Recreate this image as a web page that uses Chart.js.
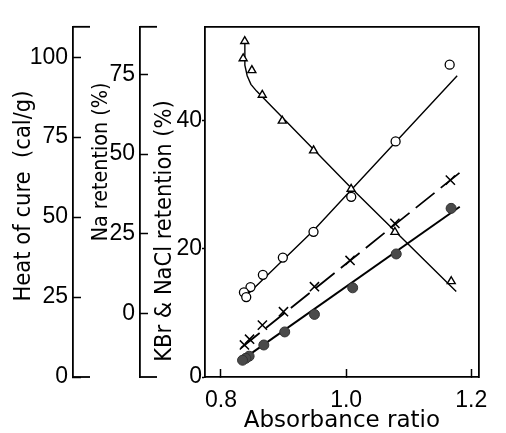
<!DOCTYPE html>
<html>
<head>
<meta charset="utf-8">
<script src="https://cdn.jsdelivr.net/npm/chart.js@4.4.1/dist/chart.umd.min.js"></script>
<style>
  body { margin: 0; background: #fff; }
  #wrap { width: 506px; height: 433px; }
</style>
</head>
<body>
<div id="wrap"><canvas id="grafico"></canvas></div>
<script>
// tick labels
const xTicks = [0.8, 1.0, 1.2];
const heatTicks = [0, 25, 50, 75, 100];
const naTicks = [0, 25, 50, 75];
const saltTicks = [0, 20, 40];

// heat of cure (triangles)
const heatX = [0.838, 0.8355, 0.8494, 0.866, 0.898, 0.948, 1.008, 1.078, 1.168];
const heatY = [105, 99.6, 95.9, 88.2, 80.1, 70.8, 58.8, 45.3, 29.9];
const heatFitX = [0.8382, 0.8382, 0.8419, 0.8479, 0.8569, 0.8659, 1.0082, 1.176];
const heatFitY = [104.7, 97.5, 94.2, 91.5, 89.4, 87.6, 59.1, 26.7];

// Na retention (open circles)
const naX = [1.1655, 1.0791, 1.0082, 0.9479, 0.8989, 0.867, 0.8472, 0.8367, 0.8404];
const naY = [78.1, 54.0, 36.6, 25.6, 17.5, 12.1, 8.25, 6.6, 5.1];
const naFitX = [0.8345, 0.9483, 1.1775];
const naFitY = [4.4, 26.1, 74.6];

// KBr retention (crosses)
const kbrX = [1.1666, 1.0779, 1.0063, 0.9494, 0.8999, 0.8662, 0.8457, 0.8375];
const kbrY = [30.76, 24.0, 18.2, 14.1, 10.2, 8.1, 5.9, 5.0];
const kbrFitX = [0.8319, 1.1835];
const kbrFitY = [4.54, 32.06];

// NaCl retention (filled circles)
const naclX = [1.1678, 1.0801, 1.0105, 0.9494, 0.9019, 0.8685, 0.845, 0.8397, 0.8345];
const naclY = [26.34, 19.22, 13.93, 9.78, 7.04, 5.0, 3.25, 2.92, 2.62];
const naclFitX = [0.8319, 1.1816];
const naclFitY = [2.55, 26.59];

const yTitles = [
  { axis: 'yHeat', text: 'Heat of cure  (cal/g)', size: 23.5, dx: 30, cy: 196 },
  { axis: 'yNa', text: 'Na retention (%)', size: 21.3, dx: 34, cy: 162 },
  { axis: 'ySalt', text: 'KBr & NaCl retention (%)', size: 23.4, dx: 31, cy: 231 }
];

function pts(xs, ys) {
  return xs.map((x, i) => ({ x: x, y: ys[i] }));
}
function fixTicks(list) {
  return function(scale) { scale.ticks = list.map(v => ({ value: v })); };
}
function fixWidth(w) {
  return function(scale) { scale.width = w; };
}

const tickFont = { family: "'Liberation Sans Narrow', 'Liberation Sans', sans-serif", size: 23 };
const black = '#000';

function sideAxis(min, max, ticks, width, tl, pad) {
  return {
    type: 'linear', position: 'left', min: min, max: max,
    afterBuildTicks: fixTicks(ticks), afterFit: fixWidth(width),
    grid: { drawOnChartArea: false, tickLength: tl, tickWidth: 1.5, tickColor: black },
    border: { color: black, width: 1.8 },
    ticks: { color: black, font: tickFont, padding: pad }
  };
}

const axisExtras = {
  id: 'axisExtras',
  afterDraw(chart) {
    const ctx = chart.ctx, area = chart.chartArea;
    ctx.save();
    ctx.strokeStyle = black;
    ctx.lineWidth = 1.8;
    ['yHeat', 'yNa'].forEach(id => {
      const s = chart.scales[id];
      [area.top, area.bottom].forEach(y => {
        ctx.beginPath();
        ctx.moveTo(s.right, y);
        ctx.lineTo(s.right + 17, y);
        ctx.stroke();
      });
    });
    yTitles.forEach(t => {
      const s = chart.scales[t.axis];
      ctx.save();
      ctx.translate(s.left + t.dx, t.cy);
      ctx.rotate(-Math.PI / 2);
      ctx.font = t.size + "px 'DejaVu Sans Condensed', 'DejaVu Sans', sans-serif";
      ctx.textAlign = 'center';
      ctx.textBaseline = 'alphabetic';
      ctx.fillStyle = black;
      ctx.fillText(t.text, 0, 0);
      ctx.restore();
    });
    ctx.restore();
  }
};

const ctx = document.getElementById('grafico');

new Chart(ctx, {
  type: 'scatter',
  data: {
    datasets: [
      { label: 'Heat of cure', data: pts(heatX, heatY), yAxisID: 'yHeat', pointStyle: 'triangle',
        pointRadius: 4.6, borderColor: black, backgroundColor: '#fff', borderWidth: 1.4, order: 1 },
      { label: 'Na retention', data: pts(naX, naY), yAxisID: 'yNa', pointStyle: 'circle',
        pointRadius: 4.5, borderColor: black, backgroundColor: '#fff', borderWidth: 1.3, order: 1 },
      { label: 'KBr retention', data: pts(kbrX, kbrY), yAxisID: 'ySalt', pointStyle: 'crossRot',
        pointRadius: 6.5, borderColor: black, borderWidth: 1.5, order: 1 },
      { label: 'NaCl retention', data: pts(naclX, naclY), yAxisID: 'ySalt', pointStyle: 'circle',
        pointRadius: 5, borderColor: '#333', backgroundColor: '#4a4a4a', borderWidth: 1, order: 1 },
      { label: 'Heat fit', data: pts(heatFitX, heatFitY), yAxisID: 'yHeat', showLine: true, pointRadius: 0,
        borderColor: black, borderWidth: 1.4, tension: 0, order: 2 },
      { label: 'Na fit', data: pts(naFitX, naFitY), yAxisID: 'yNa', showLine: true, pointRadius: 0,
        borderColor: black, borderWidth: 1.4, tension: 0, order: 2 },
      { label: 'KBr fit', data: pts(kbrFitX, kbrFitY), yAxisID: 'ySalt', showLine: true, pointRadius: 0,
        borderColor: black, borderWidth: 1.8, borderDash: [24, 8], tension: 0, order: 2 },
      { label: 'NaCl fit', data: pts(naclFitX, naclFitY), yAxisID: 'ySalt', showLine: true, pointRadius: 0,
        borderColor: black, borderWidth: 2, tension: 0, order: 2 }
    ]
  },
  options: {
    responsive: true,
    maintainAspectRatio: false,
    animation: false,
    layout: { padding: { top: 12, right: 9, left: 0, bottom: 0 } },
    plugins: { legend: { display: false }, tooltip: { enabled: false } },
    scales: {
      x: {
        type: 'linear', position: 'bottom', min: 0.7745, max: 1.212,
        afterBuildTicks: fixTicks(xTicks), afterFit: s => { s.height = 56; },
        grid: { drawOnChartArea: false, tickLength: -8, tickWidth: 1.5, tickColor: black },
        border: { color: black, width: 1.8 },
        ticks: { color: black, font: tickFont, padding: 18, maxRotation: 0, callback: v => v.toFixed(1) },
        title: { display: true, text: 'Absorbance ratio', color: black,
          font: { family: "'DejaVu Sans', sans-serif", size: 23, lineHeight: 1 }, padding: 0 }
      },
      xTop: {
        type: 'linear', position: 'top', min: 0.7745, max: 1.212,
        afterFit: s => { s.height = 0; },
        grid: { display: false },
        border: { color: black, width: 1.8 },
        ticks: { display: false }
      },
      // left axes: the first one listed sits next to the plot
      ySalt: sideAxis(0, 54.7, saltTicks, 65, 3, 0),
      yNa: sideAxis(-20, 90, naTicks, 67, -8, 13),
      yHeat: sideAxis(0, 109.5, heatTicks, 73, -8, 13),
      yRight: {
        type: 'linear', position: 'right', min: 0, max: 54.7,
        afterFit: s => { s.width = 0; },
        grid: { display: false },
        border: { color: black, width: 1.8 },
        ticks: { display: false }
      }
    }
  },
  plugins: [axisExtras]
});
</script>
</body>
</html>
